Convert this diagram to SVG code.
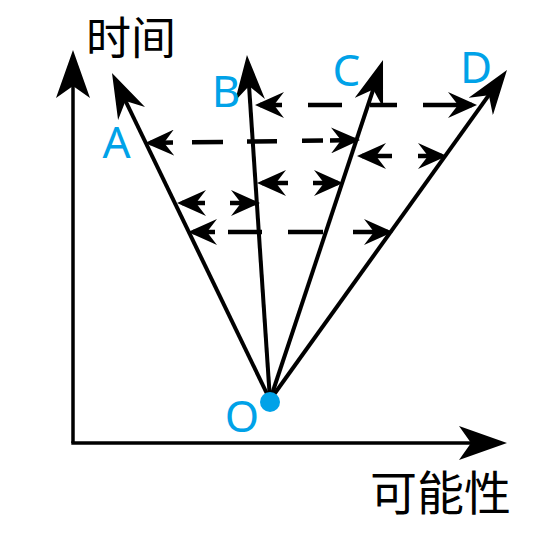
<svg xmlns="http://www.w3.org/2000/svg" width="540" height="540" viewBox="0 0 540 540">
  <style>
    .axis { stroke: #000; stroke-width: 3.5; fill: none; marker-end: url(#axisHead); }
    .ray { stroke: #000; stroke-width: 4; fill: none; marker-end: url(#bigHead); }
    .dash { stroke: #000; stroke-width: 4.5; fill: none; marker-start: url(#smallHead); marker-end: url(#smallHead); }
    .lbl { fill: #00A2E8; font-family: "Noto Sans", "Open Sans", sans-serif; font-size: 44px; text-anchor: middle; }
    .cjk { fill: #000; font-family: "Noto Sans CJK SC", "Noto Sans", sans-serif; }
  </style>
  <defs>
    <marker id="axisHead" markerUnits="userSpaceOnUse" markerWidth="48" markerHeight="34" refX="28" refY="17" orient="auto">
      <path d="M0,0 L48,17 L0,34 L12,17 Z" fill="#000"/>
    </marker>
    <marker id="bigHead" markerUnits="userSpaceOnUse" markerWidth="45" markerHeight="30" refX="25" refY="15" orient="auto">
      <path d="M0,0 L45,15 L0,30 L14,15 Z" fill="#000"/>
    </marker>
    <marker id="smallHead" markerUnits="userSpaceOnUse" markerWidth="29" markerHeight="26" refX="24" refY="13" orient="auto-start-reverse">
      <path d="M0,0 L29,13 L0,26 L10,13 Z" fill="#000"/>
    </marker>
  </defs>

  <g id="axes">
    <path class="axis" d="M73,443 L73,70"/>
    <path class="axis" d="M71.3,443 L487,443"/>
  </g>

  <g id="connectors">
    <path class="ray" d="M270,400 L120.7,91"/>
    <path class="ray" d="M270,400 L248.3,75"/>
    <path class="ray" d="M270,400 L376.7,79"/>
    <path class="ray" d="M270,400 L495.3,86.2"/>
    <path class="dash" d="M260,105 L282,105 M308,105 L342,105 M370,105 L397,105 M423,105 L472,105"/>
    <path class="dash" d="M150,143 L173,142.6 M192,142.3 L223,141.9 M247,141.6 L277,141.2 M302,140.8 L323,140.5 M330,140.4 L355,140.1"/>
    <path class="dash" d="M362,156 L392,156 M418,156 L442,156"/>
    <path class="dash" d="M262,183 L288,183 M313,183 L338,183"/>
    <path class="dash" d="M182,203 L205,203 M230,203 L255,203"/>
    <path class="dash" d="M193,232 L215,232 M228,232 L262,232 M288,232 L323,232 M353,232 L388,232"/>
  </g>

  <g id="node-O">
    <circle cx="270" cy="402" r="10" fill="#00A2E8"/>
    <text class="lbl" x="242" y="432">O</text>
  </g>
  <g id="node-A"><text class="lbl" x="116.5" y="158">A</text></g>
  <g id="node-B"><text class="lbl" x="226" y="107">B</text></g>
  <g id="node-C"><text class="lbl" x="346.5" y="86">C</text></g>
  <g id="node-D"><text class="lbl" x="476" y="83">D</text></g>

  <g id="label-time"><text class="cjk" x="86" y="55" font-size="45">时间</text></g>
  <g id="label-possibility"><text class="cjk" x="370" y="510" font-size="47">可能性</text></g>
</svg>
